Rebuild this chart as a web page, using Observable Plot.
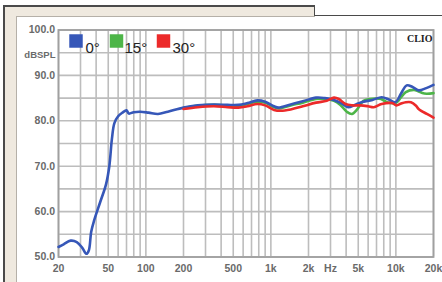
<!DOCTYPE html>
<html>
<head>
<meta charset="utf-8">
<script src="https://cdn.jsdelivr.net/npm/d3@7"></script>
<script src="https://cdn.jsdelivr.net/npm/@observablehq/plot@0.6"></script>
<style>
  html, body { margin: 0; padding: 0; background: #fff; }
  body { width: 442px; height: 282px; position: relative; overflow: hidden; font-family: "Liberation Sans", Arial, sans-serif; }
  .beige { position: absolute; background: #efe9df; }
  .line { position: absolute; background: #4a4a4a; }
  .gline { position: absolute; background: #b5b0a8; }
  #chart { position: absolute; left: 0; top: 0; }
</style>
</head>
<body>
<div class="beige" style="left:3px;top:5px;width:311px;height:11px;"></div>
<div class="beige" style="left:3px;top:5px;width:13px;height:277px;"></div>
<div class="line" style="left:3px;top:5px;width:312px;height:1.5px;"></div>
<div class="line" style="left:3px;top:5px;width:1.5px;height:277px;"></div>
<div class="line" style="left:313.5px;top:5px;width:1.5px;height:11px;"></div>
<div class="line" style="left:313.5px;top:15px;width:129px;height:1.3px;"></div>
<div class="gline" style="left:15.5px;top:15.5px;width:299px;height:1px;"></div>
<div class="gline" style="left:15.5px;top:15.5px;width:1px;height:267px;"></div>
<div id="chart"></div>
<script>
// ---- data ----
const freq0 = [20,22,25,28,31,33.5,35,36.5,38.5,43,48,51,53.5,56,60,65,70,73,80,90,105,125,150,200,260,350,450,550,650,780,900,1060,1150,1440,1800,2300,2700,3200,3700,4150,4700,5300,6500,7700,8800,9900,11000,12200,13500,15200,17500,20000];
const db0   = [52.2,52.8,53.6,53.3,52.0,50.7,51.5,55.5,58.0,62.0,66.0,70.0,76.0,79.5,81.0,81.8,82.3,81.6,81.9,82.0,81.8,81.5,82.0,82.9,83.4,83.6,83.5,83.5,83.9,84.5,84.2,83.2,82.9,83.6,84.3,85.1,85.0,84.6,83.8,83.0,83.5,84.1,84.6,85.2,84.7,84.1,86.0,87.8,87.5,86.7,87.2,87.9];

const freq15 = [200,260,350,450,550,650,780,900,1060,1150,1440,1800,2300,2700,3200,3600,4050,4450,4900,5500,6200,7000,7600,8500,10100,11000,12000,14000,16900,20000];
const db15   = [82.8,83.3,83.5,83.4,83.3,83.7,84.2,84.0,83.0,82.7,83.4,84.0,84.8,84.8,84.4,83.5,82.0,81.5,82.5,84.4,84.8,84.9,84.8,84.1,84.0,85.2,86.3,86.8,86.0,86.1];

const freq30 = [200,260,350,450,550,650,780,900,1060,1200,1440,1800,2300,2800,3200,3500,3950,4500,5200,6000,6650,7700,9300,10100,11000,12000,13200,14500,15200,17700,20000];
const db30   = [82.6,83.0,83.2,83.0,82.9,83.2,83.7,83.4,82.4,82.2,82.5,83.2,84.0,84.4,85.1,84.8,83.7,83.4,83.4,83.2,83.0,83.7,83.9,83.4,83.8,84.1,84.1,83.3,82.6,81.5,80.7];

const seriesNames = ["0°", "15°", "30°"];
const seriesColors = ["#3657b8", "#4db548", "#ec2a2a"];

const xTickValues = [20, 50, 100, 200, 500, 1000, 2000, 3000, 5000, 10000, 20000];
const xTickLabels = ["20", "50", "100", "200", "500", "1k", "2k", "Hz", "5k", "10k", "20k"];
const yTickValues = [50, 60, 70, 80, 90, 100];
const yUnit = "dBSPL";
const brand = "CLIO";

const xGrid = [20,30,40,50,60,70,80,90,100,200,300,400,500,600,700,800,900,1000,2000,3000,4000,5000,6000,7000,8000,9000,10000,20000];
const yGrid = [50,55,60,65,70,75,80,85,90,95,100];

const table = (fs, ds, name) => fs.map((f, i) => ({f, db: ds[i], s: name}));
const t0 = table(freq0, db0, seriesNames[0]);
const t15 = table(freq15, db15, seriesNames[1]);
const t30 = table(freq30, db30, seriesNames[2]);
const xTicks = xTickValues.map((v, i) => ({v, label: xTickLabels[i]}));
const yTicks = yTickValues.map((v) => ({v, label: v.toFixed(1)}));

const legendSquareDx = [17.5, 58, 105];
const legendTextDx = [27, 66, 114];

const tickStyle = { fontSize: 10.5, fontWeight: "bold", fill: "#6a6a6a" };

const chart = Plot.plot({
  width: 442,
  height: 282,
  marginLeft: 58,
  marginRight: 9,
  marginTop: 29.5,
  marginBottom: 25.5,
  style: { background: "transparent", fontFamily: "Liberation Sans, Arial, sans-serif" },
  x: { type: "log", domain: [20, 20000], axis: null },
  y: { domain: [50, 100], axis: null },
  marks: [
    Plot.gridX(xGrid, { stroke: "#bdbdbd", strokeOpacity: 1, strokeWidth: 1.6 }),
    Plot.gridY(yGrid, { stroke: "#bdbdbd", strokeOpacity: 1, strokeWidth: 1.6 }),
    Plot.frame({ stroke: "#a0a0a0", strokeWidth: 1.8 }),
    Plot.text(xTicks, { x: "v", frameAnchor: "bottom", dy: 12, text: "label", lineAnchor: "middle", textAnchor: "middle", ...tickStyle }),
    Plot.text(yTicks, { y: "v", frameAnchor: "left", dx: -3.5, text: "label", textAnchor: "end", ...tickStyle }),
    Plot.text([yUnit], { frameAnchor: "top-left", dx: -3, dy: 21, textAnchor: "end", text: (d) => d, fontSize: 9.5, fontWeight: "bold", fill: "#6a6a6a" }),
    Plot.text([brand], { frameAnchor: "top-right", dx: -1, dy: 5, textAnchor: "end", text: (d) => d, fontSize: 10, fontWeight: "bold", fontFamily: "Liberation Serif, serif", fill: "#222" }),
    Plot.line(t15, { x: "f", y: "db", stroke: seriesColors[1], strokeWidth: 2.6, curve: "catmull-rom" }),
    Plot.line(t0, { x: "f", y: "db", stroke: seriesColors[0], strokeWidth: 2.6, curve: "catmull-rom" }),
    Plot.line(t30, { x: "f", y: "db", stroke: seriesColors[2], strokeWidth: 2.6, curve: "catmull-rom" }),
    ...seriesNames.map((name, i) => Plot.dot([name], { frameAnchor: "top-left", dx: legendSquareDx[i], dy: 11, symbol: "square", r: 7.6, fill: seriesColors[i], stroke: "none" })),
    ...seriesNames.map((name, i) => Plot.text([name], { frameAnchor: "top-left", dx: legendTextDx[i], dy: 12, textAnchor: "start", text: (d) => d, fontSize: 15, fill: "#222" }))
  ]
});
document.getElementById("chart").appendChild(chart);
</script>
</body>
</html>
